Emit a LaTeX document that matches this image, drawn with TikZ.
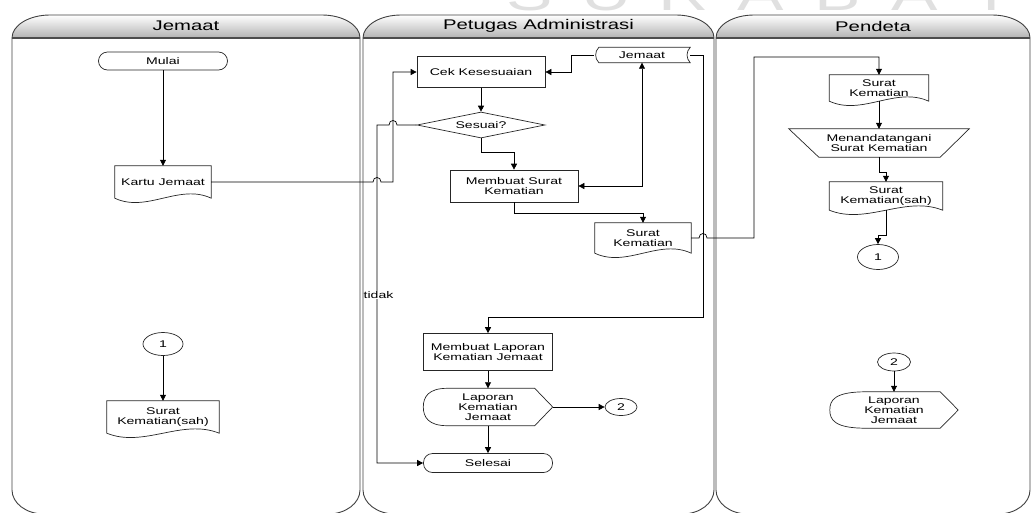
\documentclass[tikz,border=0pt]{standalone}
\usepackage{fontspec}
\setmainfont{Liberation Sans}[FakeStretch=1.45]
\usetikzlibrary{arrows.meta,shapes.geometric,calc}

\newcommand{\nodefont}{\fontsize{9.7}{10.2}\selectfont}
\newcommand{\headfont}{\fontsize{14}{16}\selectfont}
% document symbol round a plain node
\newcommand{\docshape}[1]{\draw[outline] (#1.north west) -- (#1.north east) -- (#1.south east)
  .. controls ($(#1.south east)!0.33!(#1.south west)+(0,-15)$) and ($(#1.south east)!0.67!(#1.south west)+(0,15)$) .. (#1.south west) -- cycle;}
% stored data symbol
\newcommand{\storeshape}[1]{\draw[outline] ($(#1.north west)+(5,0)$) -- (#1.north east) to[bend right=45] (#1.south east)
  -- ($(#1.south west)+(5,0)$) to[bend left=45] ($(#1.north west)+(5,0)$) -- cycle;}
% display symbol, #2 = length of the round left end
\newcommand{\dispshape}[2]{\draw[outline] ($(#1.north west)+(#2,0)$) -- ($(#1.north east)+(-18,0)$) -- (#1.east)
  -- ($(#1.south east)+(-18,0)$) -- ($(#1.south west)+(#2,0)$)
  .. controls ($(#1.south west)+(5,0)$) and ($(#1.west)+(0,10)$) .. (#1.west)
  .. controls ($(#1.west)+(0,-10)$) and ($(#1.north west)+(5,0)$) .. ($(#1.north west)+(#2,0)$) -- cycle;}

\begin{document}
\begin{tikzpicture}[x=1pt,y=-1pt,>={Triangle[length=6pt,width=6pt]},
  outline/.style={draw=black!85,line width=0.7pt},
  flow/.style={draw=black,line width=0.7pt},
  laneline/.style={draw=black!75,line width=0.9pt},
  headline/.style={draw=black!70,line width=1.6pt},
  proc/.style={rectangle,outline,font=\nodefont,align=center,minimum width=128pt,minimum height=31pt,inner sep=1pt},
  terminal/.style={rectangle,outline,rounded corners=9pt,font=\nodefont,minimum width=129pt,minimum height=18pt,inner sep=1pt},
  decision/.style={diamond,outline,aspect=4.9,font=\nodefont,minimum width=128pt,minimum height=26pt,inner sep=0pt},
  docnode/.style={rectangle,font=\nodefont,align=center,inner sep=1pt},
  conn/.style={ellipse,outline,font=\nodefont,inner sep=0pt}]
\useasboundingbox (0,0) rectangle (1032,512);

% watermark
\foreach \l [count=\i] in {S,U,R,A,B,A,Y,A}
  \node[text=black!12,font=\fontsize{48}{50}\selectfont] (wm\i) at ({530+77*(\i-1)},-6) {\l};

% swimlanes
\foreach \xa/\xb/\ttl/\nm in {12/360/Jemaat/hjem,363/714/Petugas Administrasi/hadm,716/1030/Pendeta/hpen}{
  \shade[top color=white,bottom color=black!30] (\xa,38) .. controls (\xa,25.3) and ({\xa+17},15) .. ({\xa+38},15)
    -- ({\xb-38},15) .. controls ({\xb-17},15) and (\xb,25.3) .. (\xb,38) -- cycle;
  \draw[laneline] (\xa,38) .. controls (\xa,25.3) and ({\xa+17},15) .. ({\xa+38},15)
    -- ({\xb-38},15) .. controls ({\xb-17},15) and (\xb,25.3) .. (\xb,38);
  \draw[laneline] (\xa,38) -- (\xa,490) .. controls (\xa,503) and ({\xa+14},514) .. ({\xa+32},514)
    -- ({\xb-32},514) .. controls ({\xb-14},514) and (\xb,503) .. (\xb,490) -- (\xb,38);
  \draw[headline] (\xa,38) -- (\xb,38);
  \node[font=\headfont] (\nm) at ({(\xa+\xb)/2},26) {\ttl};
}

% Jemaat
\node[terminal] (mulai) at (163,61) {Mulai};
\node[docnode,minimum width=96pt,minimum height=32pt] (kartu) at (163,182) {Kartu Jemaat};
\docshape{kartu}
\node[conn,minimum width=40pt,minimum height=23pt] (c1l) at (163,344) {1};
\node[docnode,minimum width=112pt,minimum height=32pt] (skl) at (163,417) {Surat\\Kematian(sah)};
\docshape{skl}

% Petugas Administrasi
\node[proc] (cek) at (481,72) {Cek Kesesuaian};
\node[decision] (sesuai) at (481,125) {Sesuai?};
\node[proc,minimum height=32pt] (msk) at (514,186) {Membuat Surat\\Kematian};
\node[docnode,minimum width=96pt,minimum height=15pt,inner sep=0pt] (jem) at (642,55) {Jemaat};
\storeshape{jem}
\node[docnode,minimum width=96pt,minimum height=30pt] (sk1) at (643,238) {Surat\\Kematian};
\docshape{sk1}
\node[proc,minimum width=129pt,minimum height=37pt] (mlk) at (488,352) {Membuat Laporan\\Kematian Jemaat};
\node[docnode,minimum width=129pt,minimum height=37pt,inner sep=0pt] (lk1) at (488,407) {Laporan\\Kematian\\Jemaat};
\dispshape{lk1}{24}
\node[conn,minimum width=32pt,minimum height=17pt] (c2m) at (621,407) {2};
\node[terminal,minimum height=19pt] (selesai) at (488,463) {Selesai};

% Pendeta
\node[docnode,minimum width=99pt,minimum height=26pt] (sk2) at (879,88) {Surat\\Kematian};
\docshape{sk2}
\node[docnode,minimum width=180pt,minimum height=28pt] (ttd) at (879,143) {Menandatangani\\Surat Kematian};
\draw[outline] (ttd.north west) -- (ttd.north east) -- ($(ttd.south east)+(-29,0)$) -- ($(ttd.south west)+(30,0)$) -- cycle;
\node[docnode,minimum width=113pt,minimum height=28pt] (sk3) at (886,196) {Surat\\Kematian(sah)};
\docshape{sk3}
\node[conn,minimum width=41pt,minimum height=25pt] (c1r) at (878,257) {1};
\node[conn,minimum width=33pt,minimum height=18pt] (c2r) at (894,362) {2};
\node[docnode,minimum width=128pt,minimum height=36pt,inner sep=0pt] (lk2) at (894,410) {Laporan\\Kematian\\Jemaat};
\dispshape{lk2}{36}

% connectors
\draw[flow,->] (mulai) -- (kartu);
\draw[flow,->] (kartu.east) -- (373,182) .. controls (373,176) and (381,176) .. (381,182) -- (393,182) |- (cek.west);
\draw[flow,->] (cek) -- (sesuai);
\draw[flow,->] (sesuai.west) -- (397,125) .. controls (397,119) and (389,119) .. (389,125) -- (377,125) |- (selesai.west);
\node[font=\nodefont,fill=white,inner sep=0pt] (tidak) at (378.5,295) {tidak};
\draw[flow,->] (sesuai.south) -- (481,152) -| (msk.north);
\draw[flow,->] (jem.west) -- (571,55) |- (cek.east);
\draw[flow,<->] (msk.east) -| (jem.south);
\draw[flow,->] (msk.south) -- (514,213) -| (sk1.north);
\draw[flow,->] (jem.east) -- (703,55) -- (703,317) -| (mlk.north);
\draw[flow,->] (sk1.east) -- (699,238) .. controls (699,232) and (707,232) .. (707,238) -- (754,238) -- (754,57) -| (sk2.north);
\draw[flow,->] (sk2) -- (ttd);
\draw[flow,->] (ttd.south) -- (879,172) -| (sk3.north);
\draw[flow,->] (sk3.south) -- (886,235) -| (c1r.north);
\draw[flow,->] (c1l) -- (skl);
\draw[flow,->] (mlk) -- (lk1);
\draw[flow,->] (lk1) -- (c2m);
\draw[flow,->] (lk1) -- (selesai);
\draw[flow,->] (c2r) -- (lk2);
\end{tikzpicture}
\end{document}
